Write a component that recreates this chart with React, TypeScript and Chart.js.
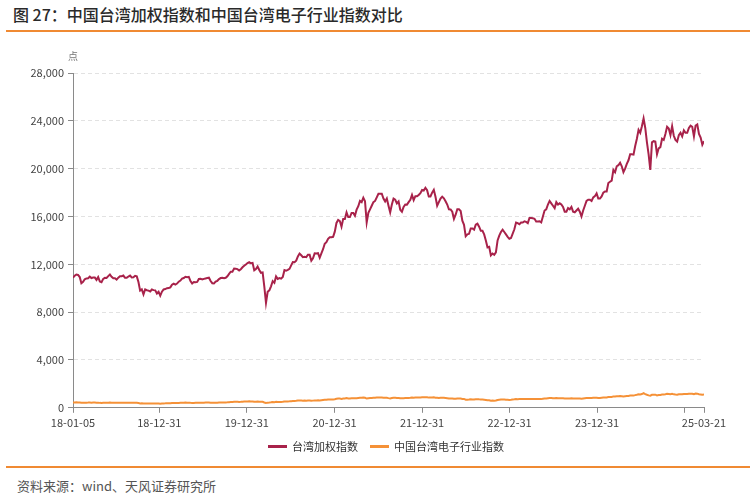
import React, { useEffect, useRef } from "react";
import { Chart, registerables } from "chart.js";

Chart.register(...registerables);

// ---- Data -----------------------------------------------------------------
const START_DATE = "2018-01-05"; // weekly observations (Fridays) from this date
const seriesNames = ["台湾加权指数", "中国台湾电子行业指数"];

const taiex2018 = [
  10880, 11040, 11150, 11110, 10940, 10420, 10530, 10750, 10820, 10840, 10970, 10850, 10900,
  10890, 10700, 10930, 10560, 10500, 10780, 10870, 10860, 11010, 11150, 10960, 10830, 10840,
  10720, 10880, 11000, 11010, 11060, 10870, 10870, 10980, 11060, 10900, 10920, 11040, 10990,
  10520, 9800, 9900, 9490, 9900, 9830, 9800, 9730, 9890, 9840, 9820, 9560, 9710,
];
const taiex2019 = [
  9380, 9710, 9900, 9930, 10000, 10010, 10070, 10300, 10390, 10300, 10390, 10550, 10640,
  10800, 10850, 10960, 10920, 10950, 10600, 10400, 10520, 10500, 10530, 10780, 10800, 10730,
  10780, 10820, 10850, 10880, 10600, 10420, 10400, 10550, 10620, 10760, 10850, 10870, 10830,
  10870, 11000, 11200, 11380, 11380, 11640, 11620, 11600, 11490, 11590, 11750, 11880, 11990,
];
const taiex2020 = [
  12110, 12180, 12090, 12120, 11500, 11610, 11820, 11530, 11290, 11320, 10130, 8780, 9700,
  9820, 10160, 10600, 10450, 10990, 10780, 10850, 10800, 10940, 11510, 11460, 11530, 11620,
  11910, 12180, 12170, 12300, 12660, 12900, 12760, 12600, 12630, 12600, 12800, 12800, 12300,
  12510, 12920, 12900, 12930, 12550, 12920, 13260, 13720, 13850, 14130, 14260, 14270, 14300,
];
const taiex2021 = [
  14730, 15460, 15710, 15620, 15140, 15800, 15800, 16340, 15950, 15950, 16300, 16300, 16070,
  16570, 16860, 17300, 17200, 17570, 17280, 15500, 16300, 16600, 16900, 17200, 17300, 17600,
  17900, 17900, 17900, 17500, 17250, 17500, 16900, 16340, 17000, 17500, 17400, 17100, 17260,
  16560, 16400, 16800, 17000, 16990, 17200, 17400, 17800, 17370, 17700, 17700, 17800, 17950, 18220,
];
const taiex2022 = [
  18170, 18400, 18200, 17670, 17670, 17990, 18230, 17650, 16900, 17200, 17500, 17660,
  17520, 17280, 17000, 16600, 16590, 16400, 15800, 16150, 16600, 16600, 16460, 15650, 15300,
  14340, 14500, 14550, 15000, 15000, 14900, 15320, 15400, 15150, 14800, 14800, 14500, 14000, 13420,
  13470, 12750, 12900, 12790, 13000, 14000, 14400, 14700, 14900, 14700, 14500, 14300, 14140,
];
const taiex2023 = [
  14200, 14560, 14930, 15500, 15450, 15350, 15500, 15500, 15600, 15550, 15450, 15870, 15870,
  15850, 15810, 15580, 15580, 15600, 15500, 16000, 16500, 16600, 17000, 17300, 17100, 16900,
  16700, 17200, 17000, 17100, 17000, 16800, 16400, 16400, 16700, 16600, 16800, 16400, 16350,
  16500, 16650, 16400, 16000, 16500, 16900, 17300, 17400, 17400, 17300, 17600, 17700, 17930,
];
const taiex2024 = [
  17500, 17500, 17680, 18000, 18100, 18100, 18800, 18900, 19000, 19900, 19700, 20200, 20290,
  20500, 20200, 19700, 20000, 20400, 20700, 21200, 21200, 21170, 21900, 22500, 23250, 23000,
  23550, 24200, 23400, 22200, 21200, 19900, 22200, 22300, 22270, 21200, 21700, 21800, 22500,
  22400, 22900, 23500, 23350, 22800, 23550, 22750, 22400, 22260, 22800, 23000, 22700, 23200,
];
const taiex2025 = [23000, 23000, 23400, 23600, 23500, 22700, 23600, 23700, 22900, 22600, 22000, 22300];

const elec2018 = [
  440, 450, 455, 452, 440, 415, 418, 428, 432, 434, 440, 432, 436,
  435, 425, 432, 412, 408, 420, 425, 424, 432, 438, 428, 420, 420,
  414, 422, 428, 430, 432, 420, 418, 422, 428, 420, 418, 425, 422,
  400, 365, 372, 352, 368, 366, 364, 360, 370, 368, 366, 352, 358,
];
const elec2019 = [
  345, 362, 370, 372, 378, 378, 382, 394, 398, 394, 400, 408, 414,
  422, 428, 434, 432, 432, 418, 408, 410, 412, 414, 426, 430, 428,
  432, 434, 438, 442, 428, 418, 418, 426, 432, 442, 448, 452, 448,
  452, 460, 472, 484, 486, 500, 500, 498, 494, 500, 512, 520, 528,
];
const elec2020 = [
  532, 538, 535, 535, 502, 510, 524, 512, 500, 502, 446, 410, 432,
  440, 456, 480, 474, 498, 490, 494, 492, 500, 526, 526, 532, 540,
  556, 574, 574, 582, 602, 616, 608, 600, 604, 600, 612, 610, 596,
  600, 620, 620, 622, 604, 624, 646, 666, 674, 690, 698, 700, 704,
];
const elec2021 = [
  720, 758, 772, 768, 744, 776, 776, 810, 782, 784, 798, 800, 790,
  808, 826, 846, 842, 858, 840, 772, 796, 812, 824, 838, 840, 852,
  866, 868, 862, 848, 832, 844, 810, 782, 812, 838, 834, 818, 826,
  792, 798, 804, 814, 812, 824, 836, 858, 838, 852, 852, 858, 864, 876,
];
const elec2022 = [
  880, 890, 880, 852, 852, 866, 876, 846, 840, 820, 834, 842,
  834, 820, 806, 788, 786, 776, 752, 764, 786, 784, 776, 738, 740,
  676, 682, 686, 706, 704, 700, 720, 724, 712, 704, 694, 676, 654, 624,
  626, 590, 600, 594, 606, 656, 676, 690, 700, 690, 680, 672, 662,
];
const elec2023 = [
  674, 690, 706, 728, 722, 728, 730, 728, 734, 730, 728, 746, 746,
  746, 742, 730, 728, 732, 726, 750, 776, 782, 802, 816, 812, 798,
  792, 810, 804, 808, 800, 792, 772, 772, 786, 782, 790, 772, 770,
  776, 784, 772, 754, 778, 800, 818, 822, 820, 818, 832, 838, 848,
];
const elec2024 = [
  826, 828, 840, 852, 858, 858, 894, 900, 906, 952, 944, 970, 976,
  988, 972, 946, 962, 980, 996, 1020, 1022, 1020, 1060, 1090, 1130, 1118,
  1150, 1230, 1150, 1090, 1040, 1010, 1090, 1100, 1096, 1040, 1070, 1076, 1112,
  1108, 1136, 1168, 1160, 1130, 1170, 1126, 1108, 1100, 1130, 1142, 1126, 1154,
];
const elec2025 = [1150, 1146, 1168, 1178, 1172, 1132, 1188, 1182, 1136, 1120, 1090, 1110];

const taiexValues = [
  ...taiex2018, ...taiex2019, ...taiex2020, ...taiex2021,
  ...taiex2022, ...taiex2023, ...taiex2024, ...taiex2025,
];
const electronicsValues = [
  ...elec2018, ...elec2019, ...elec2020, ...elec2021,
  ...elec2022, ...elec2023, ...elec2024, ...elec2025,
];

const tickDates = [
  "2018-01-05", "2018-12-31", "2019-12-31", "2020-12-31", "2021-12-31",
  "2022-12-31", "2023-12-31", "2024-12-31", "2025-03-21",
];
const tickLabels = [
  "18-01-05", "18-12-31", "19-12-31", "20-12-31", "21-12-31",
  "22-12-31", "23-12-31", "", "25-03-21",
];
const yMin = 0;
const yMax = 28000;
const yStep = 4000;

// ---- Styles ---------------------------------------------------------------
const RED = "#A8224A";
const ORANGE = "#F59137";
const RULE = "#F08A32";
const FONT = '"Noto Sans CJK SC", "Noto Sans", sans-serif';

const DAY = 86400000;
const startMs = Date.parse(START_DATE);
const weekX = (i: number) => startMs + i * 7 * DAY;

export default function App() {
  const canvasRef = useRef<HTMLCanvasElement | null>(null);

  useEffect(() => {
    if (!canvasRef.current) return;
    const chart = new Chart(canvasRef.current, {
      type: "line",
      data: {
        datasets: [
          {
            label: seriesNames[0],
            data: taiexValues.map((v, i) => ({ x: weekX(i), y: v })),
            borderColor: RED,
            backgroundColor: RED,
            borderWidth: 2,
            pointRadius: 0,
            tension: 0,
          },
          {
            label: seriesNames[1],
            data: electronicsValues.map((v, i) => ({ x: weekX(i), y: v })),
            borderColor: ORANGE,
            backgroundColor: ORANGE,
            borderWidth: 2,
            pointRadius: 0,
            tension: 0,
          },
        ],
      },
      options: {
        animation: false,
        responsive: false,
        devicePixelRatio: 1,
        layout: { padding: { top: 73, right: 51, bottom: 8, left: 0 } },
        plugins: { legend: { display: false }, tooltip: { enabled: false } },
        scales: {
          x: {
            type: "linear",
            min: Date.parse(tickDates[0]),
            max: Date.parse(tickDates[tickDates.length - 1]),
            afterBuildTicks: (scale: any) => {
              scale.ticks = tickDates.map((d) => ({ value: Date.parse(d) }));
            },
            ticks: {
              autoSkip: false,
              maxRotation: 0,
              minRotation: 0,
              padding: 3,
              color: "#444",
              font: { family: FONT, size: 11 },
              callback: (_v: any, i: number) => tickLabels[i],
            },
            grid: { drawOnChartArea: false, drawTicks: true, tickLength: 5, tickColor: "#8a8a8a" },
            border: { display: true, color: "#8a8a8a", width: 1 },
          },
          y: {
            min: yMin,
            max: yMax,
            afterFit: (scale: any) => {
              scale.width = 73;
            },
            ticks: {
              stepSize: yStep,
              padding: 4,
              color: "#444",
              font: { family: FONT, size: 11 },
              callback: (v: any) => Number(v).toLocaleString("en-US"),
            },
            grid: { color: "#e2e2e2", lineWidth: 1, tickLength: 5, tickColor: "#8a8a8a", tickBorderDash: [] },
            border: { display: true, color: "#8a8a8a", width: 1, dash: [4, 3] },
          },
        },
      },
    } as any);
    return () => chart.destroy();
  }, []);

  return (
    <div
      style={{
        position: "absolute",
        left: 0,
        top: 0,
        width: 755,
        height: 497,
        background: "#fff",
        fontFamily: FONT,
        overflow: "hidden",
      }}
    >
      <div
        style={{
          position: "absolute",
          left: 13,
          top: 3,
          fontSize: 16,
          lineHeight: "22px",
          fontWeight: 500,
          color: "#2a2a2a",
          whiteSpace: "nowrap",
        }}
      >
        图 27：中国台湾加权指数和中国台湾电子行业指数对比
      </div>
      <div style={{ position: "absolute", left: 6, top: 30, width: 744, height: 2, background: RULE }} />

      <canvas
        ref={canvasRef}
        width={755}
        height={440}
        style={{ position: "absolute", left: 0, top: 0, width: 755, height: 440 }}
      />

      <div
        style={{
          position: "absolute",
          left: 68,
          top: 50,
          width: 10,
          textAlign: "center",
          fontSize: 10,
          lineHeight: "12px",
          color: "#777",
        }}
      >
        点
      </div>

      <div
        style={{
          position: "absolute",
          left: 268,
          top: 438,
          display: "flex",
          alignItems: "center",
          fontSize: 11,
          lineHeight: "16px",
          color: "#333",
          whiteSpace: "nowrap",
        }}
      >
        <span style={{ display: "inline-block", width: 19, height: 3, background: RED, marginRight: 5 }} />
        <span>{seriesNames[0]}</span>
        <span
          style={{ display: "inline-block", width: 19, height: 3, background: ORANGE, marginLeft: 12, marginRight: 5 }}
        />
        <span>{seriesNames[1]}</span>
      </div>

      <div style={{ position: "absolute", left: 6, top: 466, width: 744, height: 2, background: RULE }} />
      <div
        style={{
          position: "absolute",
          left: 17,
          top: 477,
          fontSize: 13,
          lineHeight: "18px",
          color: "#555",
          whiteSpace: "nowrap",
        }}
      >
        资料来源：wind、天风证券研究所
      </div>
    </div>
  );
}
